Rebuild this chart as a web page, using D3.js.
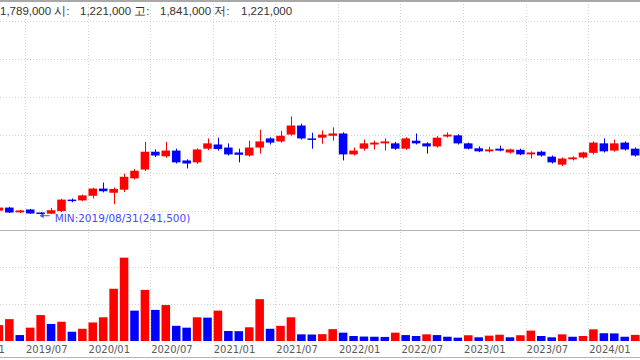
<!DOCTYPE html>
<html lang="ko">
<head>
<meta charset="UTF-8">
<title>Monthly chart</title>
<script src="https://d3js.org/d3.v7.min.js"></script>
<style>
  body { margin: 0; background: #fff; }
  svg { display: block; font-family: "DejaVu Sans", sans-serif; }
</style>
</head>
<body>
<div id="chart"></div>
<script>
// axis months (2019/01 .. 2024/05), the first three sit off the left edge
var months = ["2019/01","2019/02","2019/03","2019/04","2019/05","2019/06","2019/07","2019/08","2019/09","2019/10","2019/11","2019/12",
  "2020/01","2020/02","2020/03","2020/04","2020/05","2020/06","2020/07","2020/08","2020/09","2020/10","2020/11","2020/12",
  "2021/01","2021/02","2021/03","2021/04","2021/05","2021/06","2021/07","2021/08","2021/09","2021/10","2021/11","2021/12",
  "2022/01","2022/02","2022/03","2022/04","2022/05","2022/06","2022/07","2022/08","2022/09","2022/10","2022/11","2022/12",
  "2023/01","2023/02","2023/03","2023/04","2023/05","2023/06","2023/07","2023/08","2023/09","2023/10","2023/11","2023/12",
  "2024/01","2024/02","2024/03","2024/04","2024/05"];
var dataMonths = months.slice(3);   // 2019/04 .. 2024/05

var open = [251000,259000,246500,254000,246000,243000,250000,280000,278000,290000,
  309000,298000,306000,336000,359000,406000,394000,409000,383000,378000,
  414000,425000,417000,404000,396000,417000,441000,433000,451000,475000,
  441000,443000,448000,454000,399000,414000,425000,428000,428000,414000,
  435000,428000,420000,446000,449000,428000,415000,407000,414000,404000,
  411000,399000,406000,393000,372000,386000,391000,403000,428000,409000,
  430000,414000];
var close = [259000,246000,251500,243500,243000,252000,280000,276000,291000,309000,
  302000,308000,340000,356000,406000,396000,409000,378000,375000,412000,
  428000,413000,399000,398000,417000,433000,430000,448000,475000,441000,
  438000,451000,454000,399000,409000,428000,430000,433000,414000,441000,
  428000,420000,443000,451000,428000,414000,407000,412000,409000,412000,
  399000,404000,396000,378000,388000,391000,404000,430000,407000,428000,
  412000,396000];
var high = [262000,261000,253000,255500,247000,258000,282000,283000,293000,311000,
  325000,312000,348000,360000,432000,412000,432000,414000,386000,415000,
  441000,443000,428000,414000,435000,464000,444000,461000,499000,480000,
  456000,462000,470000,457000,417000,438000,435000,441000,432000,444000,
  454000,431000,447000,457000,452000,430000,420000,419000,422000,414000,
  414000,407000,409000,396000,391000,394000,406000,433000,441000,438000,
  433000,417000];
var low = [249000,244500,245000,242500,241500,242000,247000,273000,276000,283000,
  299000,268000,300000,333000,355000,392000,390000,375000,362000,374000,
  410000,409000,396000,378000,393000,401000,425000,430000,448000,438000,
  414000,427000,435000,383000,396000,409000,412000,409000,411000,411000,
  425000,401000,417000,443000,425000,412000,405000,404000,407000,401000,
  397000,388000,393000,375000,368000,383000,388000,399000,404000,406000,
  409000,393000];
var volume = [43000,59000,16000,36000,70000,46000,52000,25000,33000,50000,
  64000,141000,225000,82000,138000,84000,97000,41000,36000,64000,
  63000,82000,27000,26500,37000,113000,33000,41000,64000,18000,
  17500,18500,32000,22500,13500,12000,11500,11000,22500,16000,
  13500,18000,16000,11500,9000,15500,10000,14500,17000,10000,
  15500,28000,13500,10000,18000,11500,13500,31500,21000,20500,
  11500,16500];

var tickLabels = ["2019/01","2019/07","2020/01","2020/07","2021/01","2021/07","2022/01","2022/07","2023/01","2023/07","2024/01"];
var priceTicks = [250000,350000,450000,550000,650000,750000];
var volumeTicks = [100000,200000];
var minLabel = "MIN:2019/08/31(241,500)";
var minMonth = "2019/08", minValue = 241500;

var UP = "#ff0000", DOWN = "#0000ff";
var width = 640, height = 360;

var svg = d3.select("#chart").append("svg")
    .attr("width", width).attr("height", height);

var x = d3.scaleBand().domain(months).range([-37.6, 640.35]).padding(0);
var bw = x.bandwidth() * 0.82;
var xc = function (m) { return x(m) + x.bandwidth() / 2; };

var y = d3.scaleLinear().domain([200000, 800000]).range([230, 2]);
var yv = d3.scaleLinear().domain([0, 297000]).range([341, 231]);

var candles = dataMonths.map(function (m, i) {
  return { m: m, o: open[i], h: high[i], l: low[i], c: close[i], v: volume[i],
           vUp: i === 0 ? true : volume[i] >= volume[i - 1] };
});

// grid
var grid = svg.append("g").attr("stroke", "#d4d4d4").attr("stroke-dasharray", "1,2");
grid.selectAll(".hp").data(priceTicks).enter().append("line")
  .attr("x1", 0).attr("x2", width)
  .attr("y1", function (d) { return Math.round(y(d)) + 0.5; })
  .attr("y2", function (d) { return Math.round(y(d)) + 0.5; });
grid.selectAll(".hv").data(volumeTicks).enter().append("line")
  .attr("x1", 0).attr("x2", width)
  .attr("y1", function (d) { return Math.round(yv(d)) + 0.5; })
  .attr("y2", function (d) { return Math.round(yv(d)) + 0.5; });
grid.selectAll(".vg").data(tickLabels).enter().append("line")
  .attr("x1", function (d) { return Math.round(x(d)) + 0.5; })
  .attr("x2", function (d) { return Math.round(x(d)) + 0.5; })
  .attr("y1", 4).attr("y2", 341);

// frame lines
svg.append("line").attr("x1", 0).attr("x2", width).attr("y1", 1).attr("y2", 1)
  .attr("stroke", "#a8a8a8").attr("stroke-width", 2);
svg.append("line").attr("x1", 0).attr("x2", width).attr("y1", 230.5).attr("y2", 230.5)
  .attr("stroke", "#b4b4b4");
svg.append("line").attr("x1", 0).attr("x2", width).attr("y1", 357.5).attr("y2", 357.5)
  .attr("stroke", "#b4b4b4");

// header
var header = svg.append("text").attr("y", 15).attr("font-size", 11.5)
  .attr("font-family", "'Liberation Sans', sans-serif").attr("fill", "#333");
header.append("tspan").attr("x", 0).text("1,789,000 시:");
header.append("tspan").attr("x", 80).text("1,221,000 고:");
header.append("tspan").attr("x", 160).text("1,841,000 저:");
header.append("tspan").attr("x", 241).text("1,221,000");

// candles
var cg = svg.append("g");
cg.selectAll(".wick").data(candles).enter().append("line")
  .attr("x1", function (d) { return Math.round(xc(d.m)) + 0.5; })
  .attr("x2", function (d) { return Math.round(xc(d.m)) + 0.5; })
  .attr("y1", function (d) { return y(d.h); })
  .attr("y2", function (d) { return y(d.l); })
  .attr("stroke", function (d) { return d.c >= d.o ? UP : DOWN; });
cg.selectAll(".body").data(candles).enter().append("rect")
  .attr("x", function (d) { return xc(d.m) - bw / 2; })
  .attr("width", bw)
  .attr("y", function (d) { return y(Math.max(d.o, d.c)); })
  .attr("height", function (d) { return Math.max(1.5, Math.abs(y(d.o) - y(d.c))); })
  .attr("fill", function (d) { return d.c >= d.o ? UP : DOWN; });

// volume
svg.append("g").selectAll("rect").data(candles).enter().append("rect")
  .attr("x", function (d) { return xc(d.m) - bw / 2; })
  .attr("width", bw)
  .attr("y", function (d) { return yv(d.v); })
  .attr("height", function (d) { return yv(0) - yv(d.v); })
  .attr("fill", function (d) { return d.vUp ? UP : DOWN; });

// x labels
svg.append("g").selectAll("text").data(tickLabels).enter().append("text")
  .attr("x", function (d) { return x(d) + 1; })
  .attr("y", 353)
  .attr("font-size", 10)
  .attr("fill", "#5a5a5a")
  .text(function (d) { return d; });

// min marker
var mx = xc(minMonth), my = y(minValue);
svg.append("line").attr("x1", mx).attr("x2", mx + 9).attr("y1", my + 1.5).attr("y2", my + 1.5)
  .attr("stroke", "#4848ff");
svg.append("path")
  .attr("d", "M" + (mx - 1) + "," + (my + 1.5) + "l4,-2.5v5z")
  .attr("fill", "#4848ff");
svg.append("text").attr("x", mx + 14).attr("y", my + 8)
  .attr("font-size", 10.5).attr("fill", "#4848ff")
  .text(minLabel);
</script>
</body>
</html>
